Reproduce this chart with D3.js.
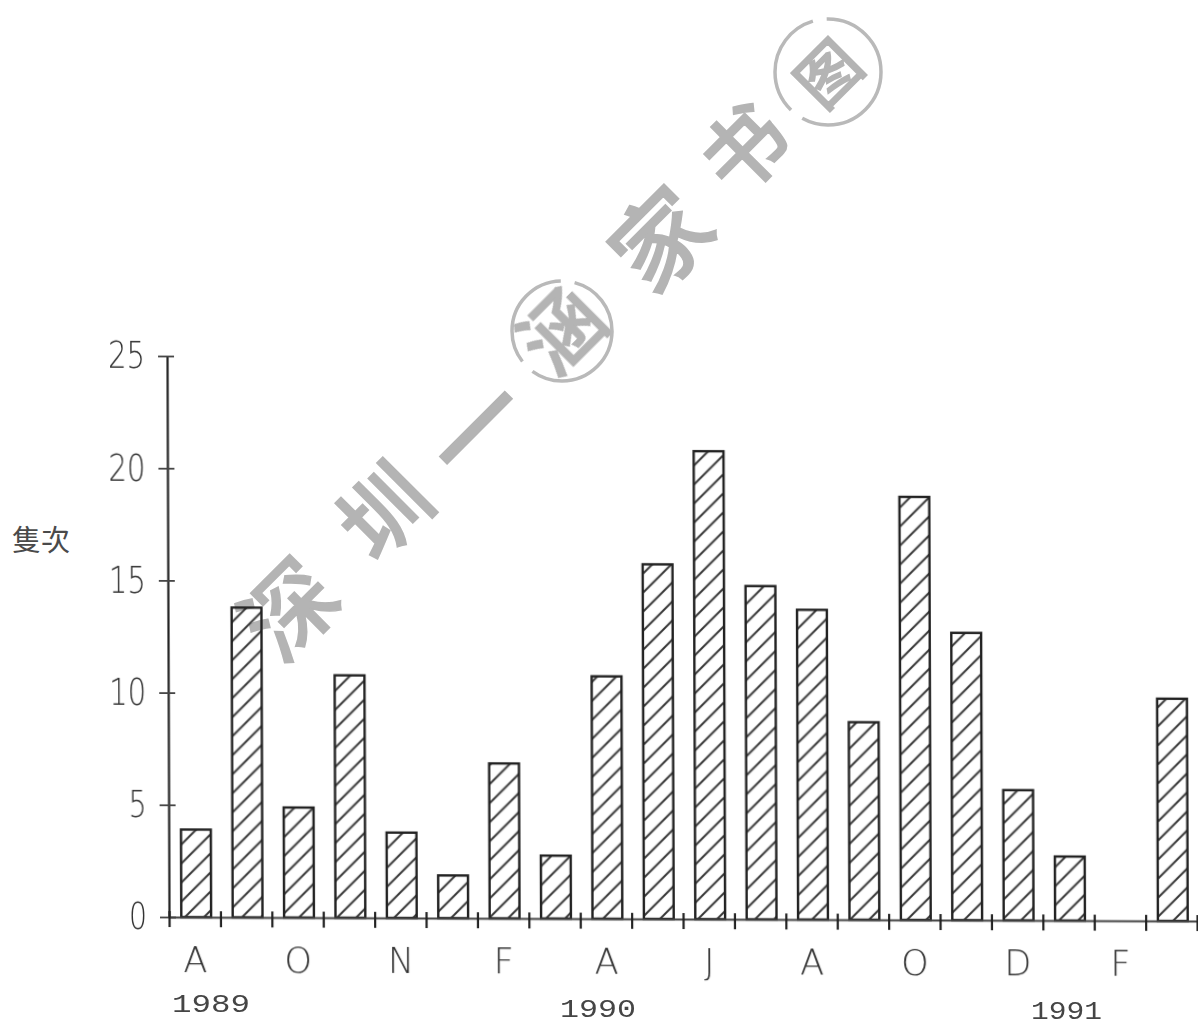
<!DOCTYPE html>
<html><head><meta charset="utf-8">
<script src="https://cdnjs.cloudflare.com/ajax/libs/d3/7.8.5/d3.min.js"></script>
<style>html,body{margin:0;padding:0;background:#fff}svg{display:block;position:absolute;left:0;top:0}</style>
</head><body>
<svg id="c" width="1198" height="1027"></svg>
<script>
const categories = ["A","s1","O","s2","N","s3","F","s4","A2","s5","J","s6","A3","s7","O2","s8","D","s9","F2","s10"];
const tickLabels = {A:"A",O:"O",N:"N",F:"F",A2:"A",J:"J",A3:"A",O2:"O",D:"D",F2:"F"};
const values = [3.9,13.8,4.9,10.8,3.8,1.9,6.9,2.8,10.8,15.8,20.85,14.85,13.8,8.8,18.85,12.8,5.8,2.85,0,9.9];
const yTicks = [0,5,10,15,20,25];
const yearLabels = ["1989","1990","1991"];
const yearPos = [[172,1012,78],[560,1017,76],[1031,1019,71]];
const watermark = [["深",290,610,92],["圳",385,512,88],["一",478,430,100],["涵",562,331,80],["家",662,240,96],["书",745,150,84],["图",829,74,62]];

const svg = d3.select("#c");
const defs = svg.append("defs");
const pat = defs.append("pattern").attr("id","hatch").attr("patternUnits","userSpaceOnUse")
  .attr("width",19).attr("height",19);
pat.append("path").attr("d","M-4,4 L4,-4 M0,19 L19,0 M15,23 L23,15")
  .attr("stroke","#333").attr("stroke-width",2).attr("fill","none");
const blur = defs.append("filter").attr("id","soft").attr("x","-5%").attr("y","-5%").attr("width","110%").attr("height","110%");
blur.append("feGaussianBlur").attr("stdDeviation",0.45);

// watermark
const wm = svg.append("g").attr("filter","url(#soft)");
wm.selectAll("text").data(watermark).join("text")
  .attr("transform",d=>`translate(${d[1]},${d[2]}) rotate(-45)`)
  .attr("text-anchor","middle").attr("dy","0.36em")
  .attr("font-family","'Noto Sans CJK SC'").attr("font-weight",500).attr("font-size",d=>d[3])
  .attr("fill","#b4b4b4").attr("stroke","#b4b4b4").attr("stroke-width",1.5).text(d=>d[0]);
wm.selectAll("circle").data([[828,72,53],[562,331,50]]).join("circle")
  .attr("cx",d=>d[0]).attr("cy",d=>d[1]).attr("r",d=>d[2])
  .attr("fill","none").attr("stroke","#b9b9b9").attr("stroke-width",3.5).attr("stroke-dasharray","110 14");

const plot = svg.append("g").attr("filter","url(#soft)")
  .attr("transform",`matrix(1,0.0039,0.0035,1,${-0.0035*917},${-0.0039*169})`);

const x = d3.scaleBand().domain(categories).range([169,1197]).paddingInner(0.42).paddingOuter(0.21);
const xTickScale = d3.scaleLinear().domain([0,20]).range([169,1197]);
const y = d3.scaleLinear().domain([0,25]).range([917,356]);

plot.selectAll("rect.bar").data(values.map((v,i)=>({v,c:categories[i]})).filter(d=>d.v>0)).join("rect")
  .attr("class","bar").attr("x",d=>x(d.c)+1.5).attr("y",d=>y(d.v))
  .attr("width",x.bandwidth()).attr("height",d=>y(0)-y(d.v))
  .attr("fill","url(#hatch)").attr("stroke","#222").attr("stroke-width",2.4);

// y axis
const yAxis = plot.append("g").attr("transform","translate(169,0)")
  .call(d3.axisLeft(y).tickValues(yTicks).tickSize(0).tickPadding(22));
yAxis.select(".domain").attr("stroke","#222").attr("stroke-width",2.2);
yAxis.selectAll(".tick line").attr("x1",-9).attr("x2",7).attr("stroke","#444").attr("stroke-width",1.8);
yAxis.selectAll(".tick text")
  .attr("font-family","'DejaVu Sans'").attr("font-weight",200).attr("font-size",37)
  .attr("fill","#333").attr("textLength",37).attr("lengthAdjust","spacingAndGlyphs");
yAxis.selectAll(".tick").filter(d=>d<10).select("text").attr("textLength",18);

// x axis: ticks at period boundaries
const xAxis = plot.append("g").attr("transform","translate(0,917)")
  .call(d3.axisBottom(xTickScale).tickValues(d3.range(0,21)).tickFormat("").tickSize(0));
xAxis.select(".domain").attr("stroke","#444").attr("stroke-width",2.2);
xAxis.selectAll(".tick line").attr("y1",-6).attr("y2",10).attr("stroke","#222").attr("stroke-width",2.2);

// x labels every other period
const xLab = plot.append("g").attr("transform","translate(0.5,917)")
  .call(d3.axisBottom(x).tickFormat(d=>tickLabels[d]||"").tickSize(0).tickPadding(30));
xLab.select(".domain").remove();
xLab.selectAll(".tick text")
  .attr("font-family","'DejaVu Sans'").attr("font-weight",200).attr("font-size",35)
  .attr("fill","#333");

svg.append("g").attr("filter","url(#soft)").selectAll("text").data(yearLabels).join("text")
  .attr("x",(d,i)=>yearPos[i][0]).attr("y",(d,i)=>yearPos[i][1])
  .attr("textLength",(d,i)=>yearPos[i][2]).attr("lengthAdjust","spacingAndGlyphs")
  .attr("font-family","'Liberation Mono'").attr("font-size",26).attr("fill","#444").text(d=>d);

svg.append("text").attr("x",12).attr("y",551).attr("font-family","'Noto Sans CJK TC'")
  .attr("font-size",29).attr("fill","#4a4a4a").text("隻次");
</script>
</body></html>
